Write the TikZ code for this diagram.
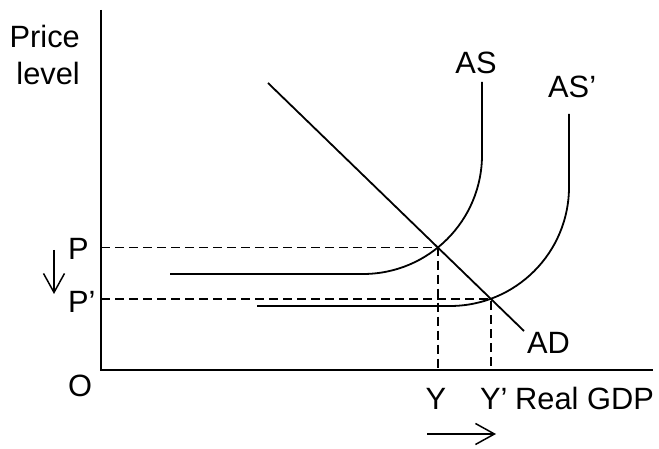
\documentclass[tikz,border=0pt]{standalone}
\usepackage{fontspec}
\setmainfont{Liberation Sans}
\usetikzlibrary{arrows.meta,intersections}
\begin{document}
\begin{tikzpicture}[x=1pt,y=1pt,
    lbl/.style={inner sep=0pt, font=\fontsize{30.8}{37}\selectfont},
    curveline/.style={line width=1.8pt},
    guide/.style={line width=1.8pt, dash pattern=on 9pt off 5pt},
    move/.style={line width=1.5pt, -{Straight Barb[length=19pt,width=21pt]}}]
    \useasboundingbox (-101,-79) rectangle (558,370);

    % 坐标轴
    \coordinate (O) at (0,0);
    \coordinate (ytop) at (0,360);
    \coordinate (xend) at (552,0);
    \draw[line width=2.2pt] (ytop) -- (O) -- (xend);

    % 总供给曲线 AS, AS'
    \draw[curveline, name path=as] (69,96) -- (262,96)
        arc[start angle=270, end angle=360, radius=119] -- (381,288);
    \draw[curveline, name path=asnew] (156,64) -- (349,64)
        arc[start angle=270, end angle=360, radius=119] -- (468,256);

    % 总需求曲线 AD
    \coordinate (adtop) at (167,287);
    \coordinate (adbot) at (423,39);
    \draw[curveline, name path=ad] (adtop) -- (adbot);

    % 均衡点与虚线
    \path[name intersections={of=ad and as, by=E}];
    \path[name intersections={of=ad and asnew, by=Enew}];
    \draw[guide] (O |- E) -- (E) -- (E |- O);
    \draw[guide] (O |- Enew) -- (Enew) -- (Enew |- O);

    % 标签
    \node[lbl, anchor=north east, align=right] (ylab) at (-21,345) {Price\\level};
    \node[lbl, anchor=base west] (plab) at (-33,110) {P};
    \node[lbl, anchor=base west] (pnewlab) at (-33,57) {P’};
    \node[lbl, anchor=base west] (olab) at (-33,-27) {O};
    \node[lbl, anchor=base] (aslab) at (375,296) {AS};
    \node[lbl, anchor=base west] (asnewlab) at (447,272) {AS’};
    \node[lbl, anchor=base west] (adlab) at (426,16) {AD};
    \node[lbl, anchor=base] (ylabel) at (335,-40) {Y};
    \node[lbl, anchor=base west] (ynewlab) at (379,-40) {Y’};
    \node[lbl, anchor=base west] (xlab) at (414,-40) {Real GDP};

    % 变动方向
    \coordinate (pfrom) at (-47,120);
    \coordinate (pto) at (-47,76);
    \draw[move] (pfrom) -- (pto);
    \coordinate (yfrom) at (326,-64);
    \coordinate (yto) at (395,-64);
    \draw[move] (yfrom) -- (yto);
\end{tikzpicture}
\end{document}
